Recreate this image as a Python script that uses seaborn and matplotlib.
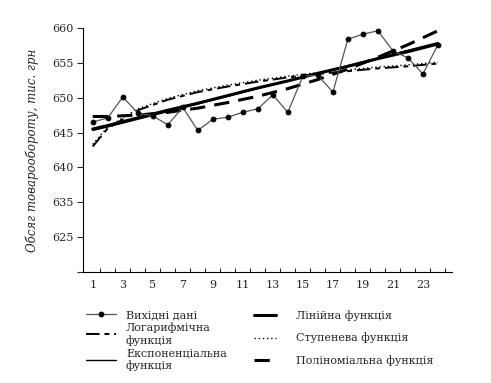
import matplotlib
matplotlib.use("Agg")
import matplotlib.pyplot as plt
import seaborn as sns
import pandas as pd

# ---- data ----
periods = list(range(1, 25))
source_values = [646.5, 647.1, 650.1, 647.8, 647.4, 646.1, 648.6, 645.3, 646.9, 647.2,
                 647.9, 648.4, 650.4, 647.9, 653.1, 653.2, 650.8, 658.4, 659.1, 659.6,
                 656.7, 655.7, 653.4, 657.6]

trend_x = [1, 2, 4, 6, 8, 10, 12, 14, 16, 18, 20, 22, 24]
linear_trend = [645.5, 646.0, 647.1, 648.2, 649.2, 650.3, 651.4, 652.4, 653.5, 654.5, 655.6, 656.6, 657.7]
exponential_trend = [645.3, 645.8, 646.9, 648.0, 649.1, 650.2, 651.3, 652.4, 653.5, 654.6, 655.7, 656.8, 657.9]
log_trend = [643.0, 645.6, 648.2, 649.7, 650.8, 651.6, 652.3, 652.9, 653.4, 653.8, 654.2, 654.5, 654.9]
power_trend = [643.3, 645.8, 648.4, 649.9, 651.0, 651.8, 652.5, 653.1, 653.6, 654.0, 654.4, 654.7, 655.1]
poly_trend = [647.3, 647.3, 647.5, 647.9, 648.5, 649.3, 650.2, 651.3, 652.6, 654.1, 655.8, 657.6, 659.6]

y_ticks = [625, 630, 635, 640, 645, 650, 655, 660]
y_tick_labels = ["", "625", "635", "640", "645", "650", "655", "660"]
x_label_ticks = list(range(1, 24, 2))
x_minor_ticks = [i + 0.5 for i in range(1, 25)]

labels = {
    "src": "Вихідні дані",
    "log": "Логарифмічна\nфункція",
    "exp": "Експоненціальна\nфункція",
    "lin": "Лінійна функція",
    "pow": "Ступенева функція",
    "poly": "Поліноміальна функція",
}
y_title = "Обсяг товарообороту, тис. грн"

# ---- figure ----
sns.set_style("white")
plt.rcParams["font.family"] = ["DejaVu Serif"]
plt.rcParams["font.size"] = 8

fig = plt.figure(figsize=(4.91, 3.83), dpi=100)
ax = fig.add_axes([0.169, 0.290, 0.752, 0.637])

src_df = pd.DataFrame({"x": periods, "y": source_values})
trend_df = pd.DataFrame({"x": trend_x, "lin": linear_trend, "exp": exponential_trend,
                         "log": log_trend, "pow": power_trend, "poly": poly_trend})

sns.lineplot(data=trend_df, x="x", y="pow", ax=ax, color="black", lw=1.0,
             linestyle=(0, (1, 2)))
sns.lineplot(data=trend_df, x="x", y="log", ax=ax, color="black", lw=1.4,
             linestyle=(0, (7, 2.5, 2.5, 2.5)))
sns.lineplot(data=trend_df, x="x", y="exp", ax=ax, color="black", lw=1.0)
sns.lineplot(data=trend_df, x="x", y="lin", ax=ax, color="black", lw=2.2)
sns.lineplot(data=trend_df, x="x", y="poly", ax=ax, color="black", lw=2.2,
             linestyle=(0, (5, 3)))
sns.lineplot(data=src_df, x="x", y="y", ax=ax, color="#555555", lw=0.9,
             marker="o", markersize=3.4, markerfacecolor="black",
             markeredgecolor="black")

lines = ax.get_lines()
h_pow, h_log, h_exp, h_lin, h_poly, h_src = lines[:6]

ax.set_xlim(0.35, 24.95)
ax.set_ylim(625, 660)
ax.set_yticks(y_ticks)
ax.set_yticklabels(y_tick_labels)
ax.set_xticks(x_label_ticks)
ax.set_xticklabels([str(v) for v in x_label_ticks])
ax.set_xticks(x_minor_ticks, minor=True)
ax.tick_params(axis="x", which="major", length=0, pad=6, labelsize=8)
ax.tick_params(axis="x", which="minor", direction="in", length=3, width=0.8, bottom=True)
ax.tick_params(axis="y", direction="out", length=4, width=0.8, left=True, labelsize=8, pad=3)
ax.set_xlabel("")
ax.set_ylabel(y_title, fontstyle="italic", fontsize=8.5, labelpad=9)
for s in ["top", "right"]:
    ax.spines[s].set_visible(False)
for s in ["left", "bottom"]:
    ax.spines[s].set_color("black")
    ax.spines[s].set_linewidth(0.8)

fig.legend([h_src, h_log, h_exp], [labels["src"], labels["log"], labels["exp"]],
           loc="upper left", bbox_to_anchor=(0.175, 0.190), frameon=False,
           borderpad=0, borderaxespad=0, handlelength=2.7, handletextpad=0.9,
           labelspacing=0.22, fontsize=8)
fig.legend([h_lin, h_pow, h_poly], [labels["lin"], labels["pow"], labels["poly"]],
           loc="upper left", bbox_to_anchor=(0.517, 0.190), frameon=False,
           borderpad=0, borderaxespad=0, handlelength=2.0, handletextpad=1.8,
           labelspacing=1.05, fontsize=8)

fig.savefig("out.png", dpi=100)
